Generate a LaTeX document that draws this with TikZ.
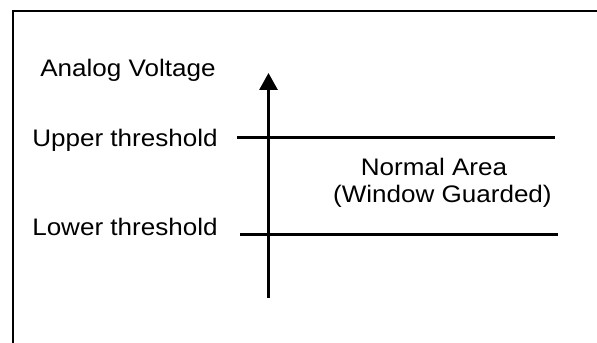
\documentclass[tikz,border=0pt]{standalone}
\usepackage{fontspec}
\setmainfont[FakeStretch=1.09]{Liberation Sans}
\usetikzlibrary{arrows.meta,positioning}
\tikzset{
  frameline/.style={line width=1.9pt, draw=black},
  level/.style={line width=1.5pt, draw=black},
  axisline/.style={-{Triangle[length=0.42cm,width=0.45cm]}, line width=1.6pt, draw=black},
  lbl/.style={
    inner sep=0pt, anchor=base west,
    font=\fontsize{17}{19.2}\selectfont
  },
  area/.style={
    inner sep=0pt, anchor=base,
    font=\fontsize{17}{19.2}\selectfont
  }
}

\begin{document}
\begin{tikzpicture}
    \useasboundingbox (0,0) rectangle (14.925,8.575);
    % frame
    \coordinate (fbl) at (0.325,0);
    \coordinate (ftl) at (0.325,8.3);
    \coordinate (ftr) at (14.925,8.3);
    \draw[frameline] (fbl) -- (ftl) -- (ftr);
    % voltage axis
    \coordinate (vbot) at (6.7125,1.125);
    \coordinate (vtop) at (6.7125,6.75);
    \draw[axisline] (vbot) -- (vtop);
    % thresholds
    \coordinate (upl) at (5.925,5.1375);
    \coordinate (upr) at (13.875,5.1375);
    \coordinate (lol) at (6.0,2.7125);
    \coordinate (lor) at (13.95,2.7125);
    \draw[level] (upl) -- (upr);
    \draw[level] (lol) -- (lor);
    % labels
    \node[lbl] (volt) at (1.0,6.65) {Analog Voltage};
    \node[lbl] (upper) at (0.8,4.9) {Upper threshold};
    \node[lbl] (lower) at (0.8,2.68) {Lower threshold};
    \node[area] (normal) at (10.85,4.175) {Normal Area};
    \node[area] (guard) at (11.06,3.5) {(Window Guarded)};
\end{tikzpicture}
\end{document}
